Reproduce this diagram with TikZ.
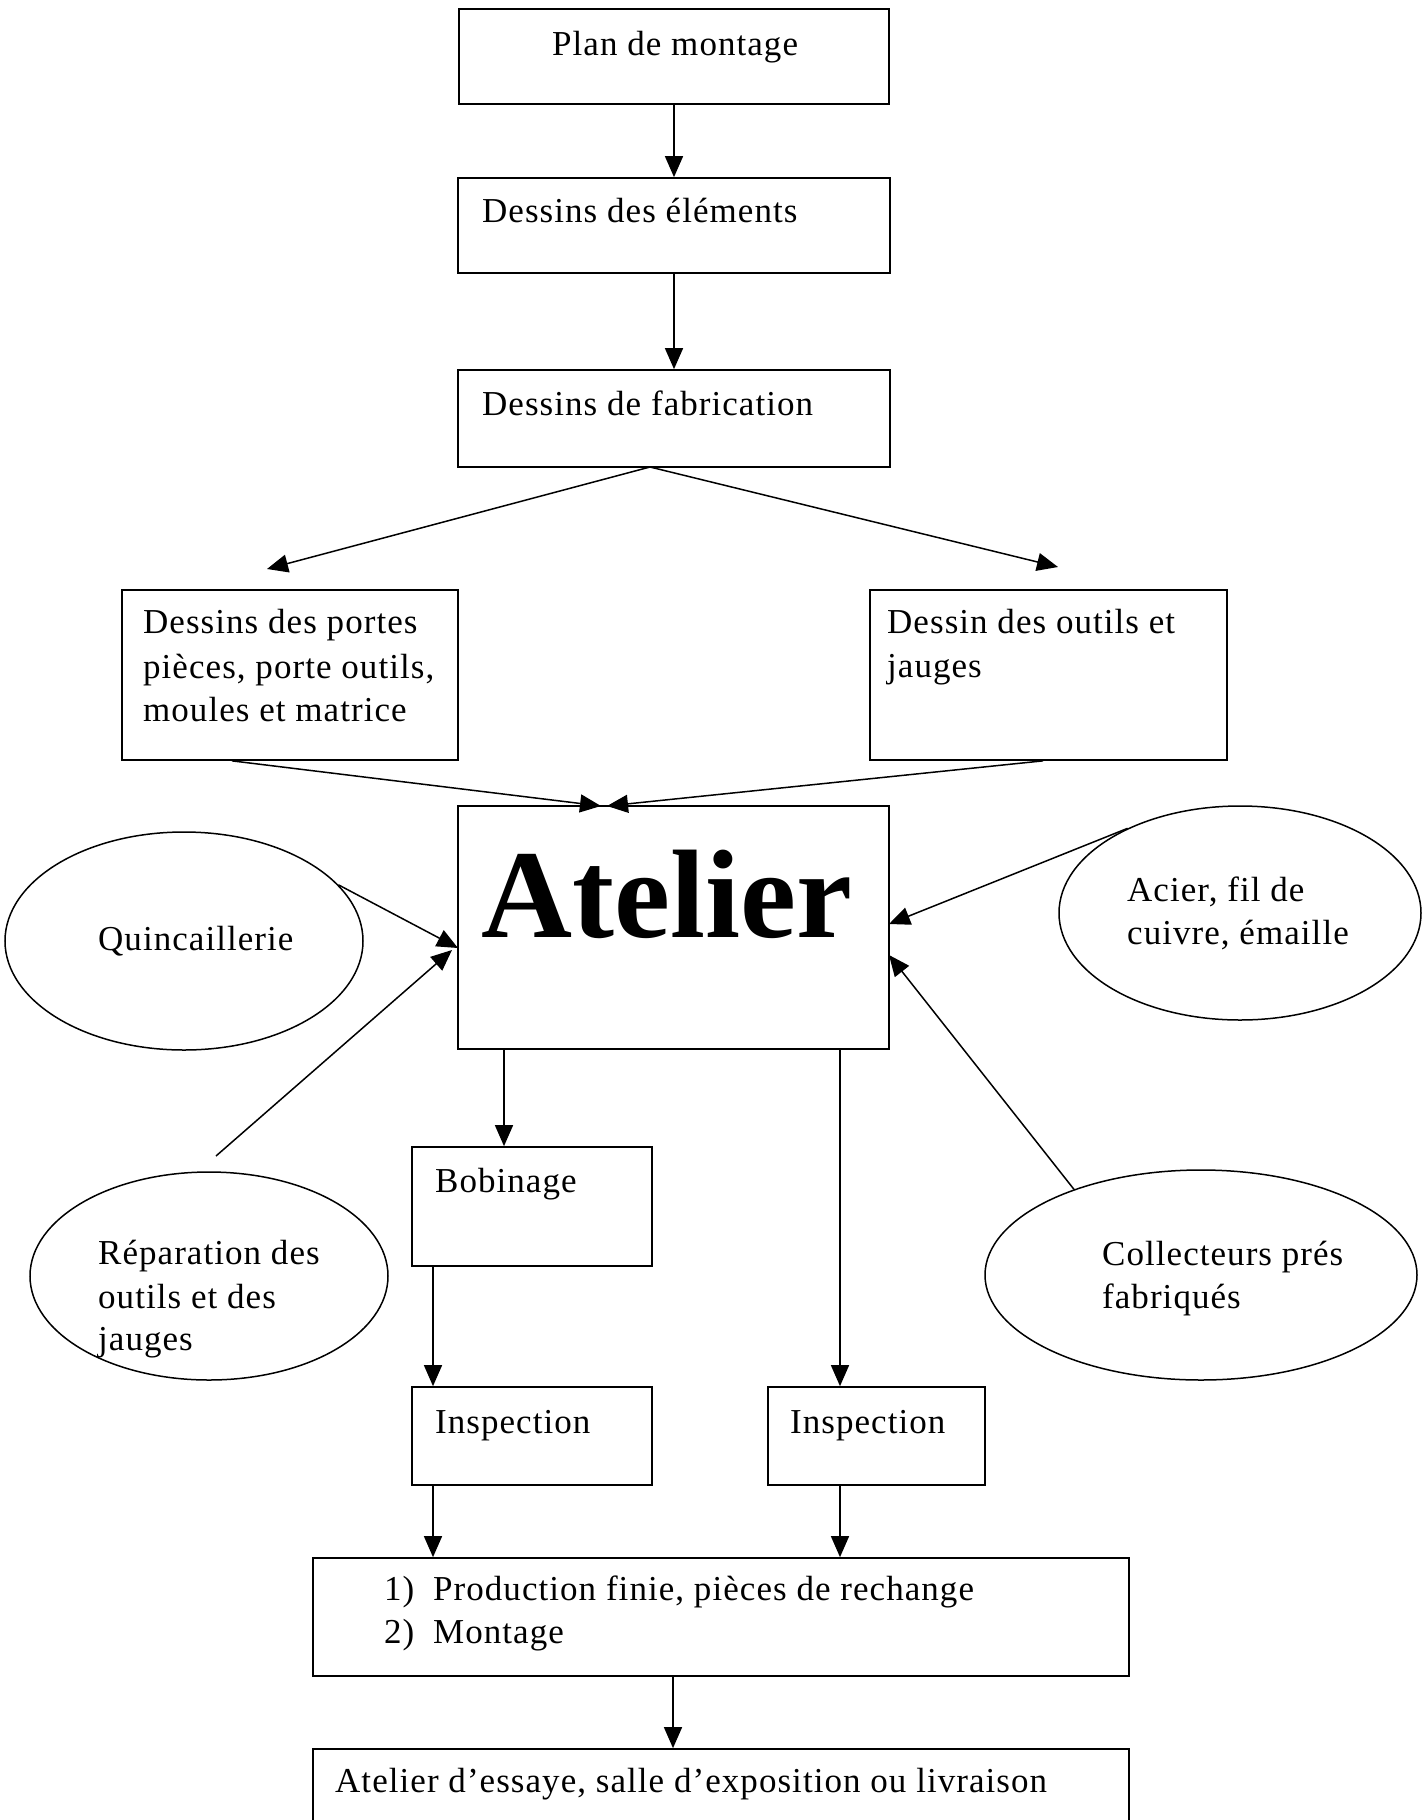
\documentclass[tikz,border=0pt]{standalone}
\usepackage{fontspec}
\setmainfont{Liberation Serif}[LetterSpace=3]
\newfontfamily\atfont{Liberation Serif}
\usetikzlibrary{arrows.meta,shapes.geometric}
\begin{document}
\begin{tikzpicture}[x=1pt,y=-1pt,
  box/.style={draw, line width=1.7pt, inner sep=0pt, rectangle},
  oval/.style={draw, line width=1.5pt, inner sep=0pt, ellipse},
  txt/.style={anchor=base west, inner sep=0pt, font=\fontsize{35}{42}\selectfont},
  arr/.style={line width=1.5pt, -{Triangle[length=21pt,width=18pt]}},
  ln/.style={line width=1.5pt}]
\useasboundingbox (0,0) rectangle (1425,1820);
\fill[white] (0,0) rectangle (1425,1820);

% boxes
\node[box, minimum width=430pt, minimum height=95pt] (plan) at (674,56.5) {};
\node[box, minimum width=432pt, minimum height=95pt] (elem) at (674,225.5) {};
\node[box, minimum width=432pt, minimum height=97pt] (fabr) at (674,418.5) {};
\node[box, minimum width=336pt, minimum height=170pt] (portes) at (290,675) {};
\node[box, minimum width=357pt, minimum height=170pt] (outils) at (1048.5,675) {};
\node[box, minimum width=431pt, minimum height=243pt] (atelier) at (673.5,927.5) {};
\node[box, minimum width=240pt, minimum height=119pt] (bobin) at (532,1206.5) {};
\node[box, minimum width=240pt, minimum height=98pt] (inspL) at (532,1436) {};
\node[box, minimum width=217pt, minimum height=98pt] (inspR) at (876.5,1436) {};
\node[box, minimum width=816pt, minimum height=118pt] (prod) at (721,1617) {};
\node[box, minimum width=816pt, minimum height=91pt] (essaye) at (721,1794.5) {};

% ellipses
\node[oval, minimum width=358pt, minimum height=218pt] (quinc) at (184,941) {};
\node[oval, minimum width=358pt, minimum height=208pt] (repar) at (209,1276) {};
\node[oval, minimum width=362pt, minimum height=214pt] (acier) at (1240,913) {};
\node[oval, minimum width=432pt, minimum height=210pt] (collect) at (1201,1275) {};

% texts
\node[txt] (tplan) at (552,55) {Plan de montage};
\node[txt] (telem) at (482,222) {Dessins des éléments};
\node[txt] (tfabr) at (482,415) {Dessins de fabrication};
\node[txt] (tport1) at (143,633) {Dessins des portes};
\node[txt] (tport2) at (143,678) {pièces, porte outils,};
\node[txt] (tport3) at (143,721) {moules et matrice};
\node[txt] (tout1) at (887,633) {Dessin des outils et};
\node[txt] (tout2) at (887,677) {jauges};
\node[anchor=base, inner sep=0pt, font=\atfont\bfseries\fontsize{126}{130}\selectfont] (tatel) at (667,937) {Atelier};
\node[txt] (tquinc) at (98,950) {Quincaillerie};
\node[txt] (tacier1) at (1127,901) {Acier, fil de};
\node[txt] (tacier2) at (1127,944) {cuivre, émaille};
\node[txt] (trep1) at (98,1264) {Réparation des};
\node[txt] (trep2) at (98,1308) {outils et des};
\node[txt] (trep3) at (98,1350) {jauges};
\node[txt] (tcol1) at (1102,1265) {Collecteurs prés};
\node[txt] (tcol2) at (1102,1308) {fabriqués};
\node[txt] (tbobin) at (435,1192) {Bobinage};
\node[txt] (tinspL) at (435,1433) {Inspection};
\node[txt] (tinspR) at (790,1433) {Inspection};
\node[txt] (tnum1) at (384,1600) {1)};
\node[txt] (tprod1) at (433,1600) {Production finie, pièces de rechange};
\node[txt] (tnum2) at (384,1643) {2)};
\node[txt] (tprod2) at (433,1643) {Montage};
\node[txt] (tess) at (335,1792) {Atelier d’essaye, salle d’exposition ou livraison};

% free-end coordinates
\coordinate (fabB) at (650,467);
\coordinate (tipL) at (267,569);
\coordinate (tipR) at (1058,567);
\coordinate (atTopL) at (601,806);
\coordinate (atTopR) at (607,806);
\coordinate (atLq) at (458,948);
\coordinate (atLr) at (452,950);
\coordinate (atRa) at (889,924);
\coordinate (atRc) at (889,955);
\coordinate (repS) at (216,1156);

% connectors
\draw[arr] (plan.south) -- (elem.north);
\draw[arr] (elem.south) -- (fabr.north);
\draw[arr] (fabB) -- (tipL);
\draw[arr] (fabB) -- (tipR);
\draw[arr] (portes.south -| 232,0) -- (atTopL);
\draw[arr] (outils.south -| 1043,0) -- (atTopR);
\draw[arr] (quinc.20) -- (atLq);
\draw[arr] (repS) -- (atLr);
\draw[arr] (acier.143) -- (atRa);
\draw[arr] (collect.146) -- (atRc);
\draw[arr] (atelier.south -| 504,0) -- (bobin.north -| 504,0);
\draw[arr] (atelier.south -| 840,0) -- (inspR.north -| 840,0);
\draw[arr] (bobin.south -| 433,0) -- (inspL.north -| 433,0);
\draw[arr] (inspL.south -| 433,0) -- (prod.north -| 433,0);
\draw[arr] (inspR.south -| 840,0) -- (prod.north -| 840,0);
\draw[arr] (prod.south -| 673,0) -- (essaye.north -| 673,0);
\end{tikzpicture}
\end{document}
